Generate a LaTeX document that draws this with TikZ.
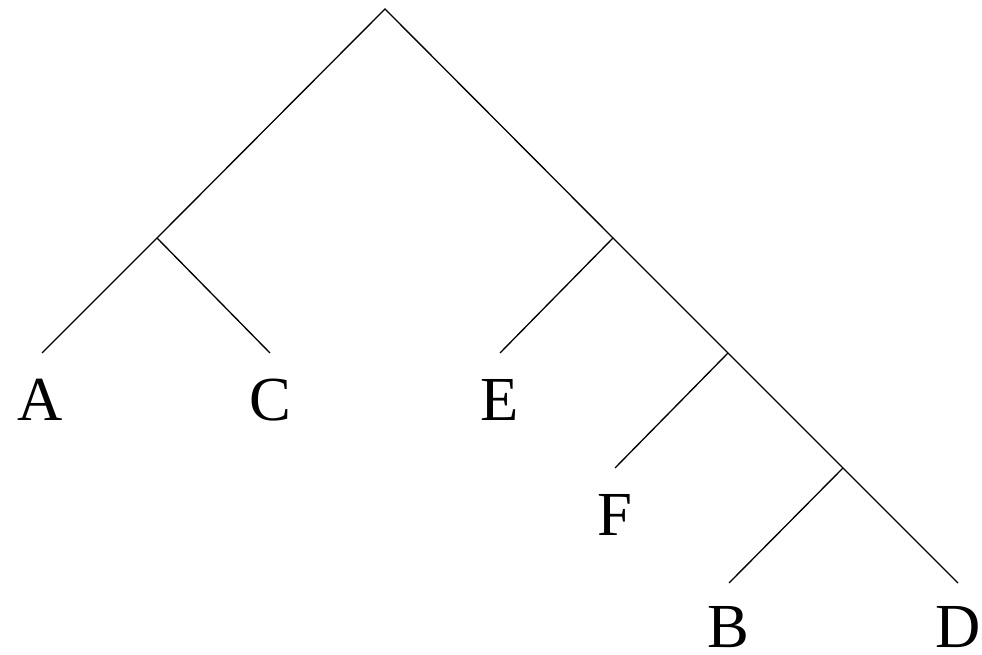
\documentclass[tikz,border=0pt]{standalone}
\usepackage{fontspec}
\setmainfont{Liberation Serif}
\usepackage{tikz}
\usepackage{xcolor}

\tikzset{
  branch/.style={draw=black, line width=1pt},
  leaf/.style={inner sep=0pt, font=\fontsize{47}{50}\selectfont},
}

\begin{document}
\begin{tikzpicture}[x=0.75pt,y=0.75pt,yscale=-1,xscale=1]
%set diagram left start at 0, and has height of 655
\useasboundingbox (0,0) rectangle (982,655);

%Inner points of the tree
\coordinate (root) at (385,9);
\coordinate (ac) at (157,238);
\coordinate (efbd) at (613,238);
\coordinate (fbd) at (728,353);
\coordinate (bd) at (843,468);
%Leaf ends
\coordinate (endA) at (42,353);
\coordinate (endC) at (270,353);
\coordinate (endE) at (500,353);
\coordinate (endF) at (615,468);
\coordinate (endB) at (729,583);
\coordinate (endD) at (958,583);

%Straight Lines
\draw [branch] (endA) -- (ac) -- (root) -- (efbd) -- (fbd) -- (bd) -- (endD) ;
\draw [branch] (ac) -- (endC) ;
\draw [branch] (efbd) -- (endE) ;
\draw [branch] (fbd) -- (endF) ;
\draw [branch] (bd) -- (endB) ;

% Text Node
\node [leaf] (A) at (40,400) {A};
% Text Node
\node [leaf] (C) at (270,400) {C};
% Text Node
\node [leaf] (E) at (500,400) {E};
% Text Node
\node [leaf] (F) at (615,515) {F};
% Text Node
\node [leaf] (B) at (728,627) {B};
% Text Node
\node [leaf] (D) at (958,627) {D};

\end{tikzpicture}
\end{document}
